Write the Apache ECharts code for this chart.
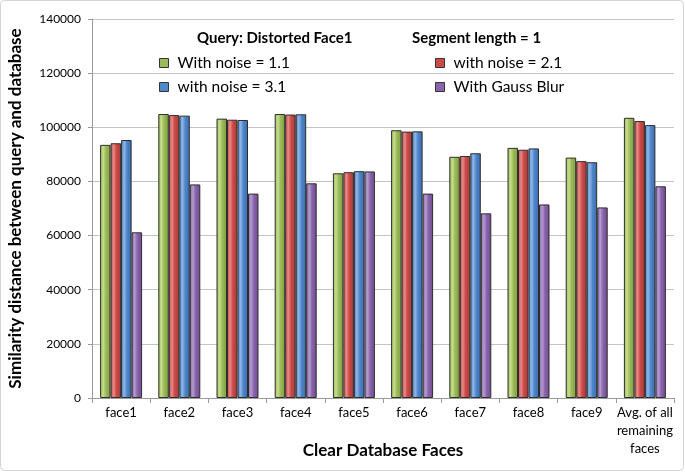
<!DOCTYPE html>
<html>
<head>
<meta charset="utf-8">
<script src="https://cdn.jsdelivr.net/npm/echarts@6/dist/echarts.min.js"></script>
<style>html,body{margin:0;padding:0;background:#fff}#c{width:685px;height:472px}</style>
</head>
<body>
<div id="c"></div>
<script>
const categories = ['face1','face2','face3','face4','face5','face6','face7','face8','face9','Avg. of all\nremaining\nfaces'];
const seriesNames = ['With noise = 1.1','with noise = 2.1','with noise = 3.1','With Gauss Blur'];
const noise11 = [93500,104900,103200,104900,83000,98900,89100,92400,88800,103500];
const noise21 = [94100,104500,102800,104700,83400,98400,89400,91700,87500,102300];
const noise31 = [95300,104300,102700,104800,83800,98500,90400,92200,87100,100800];
const gaussBlur = [61200,78900,75500,79300,83700,75500,68200,71500,70400,78200];
const yTicks = {min:0, max:140000, interval:20000};
const titleQuery = 'Query: Distorted Face1';
const titleSegment = 'Segment length = 1';
const xName = 'Clear Database Faces';
const yName = 'Similarity distance between query and database';

const FONT = 'Lato';
const palettes = [
  ['#c6dc8c','#9bbb59','#7f9c3e'],
  ['#e58a88','#cc4b48','#a83a37'],
  ['#8fb6e6','#4f87cc','#3a6aa8'],
  ['#b39ccc','#8a64ad','#6c4c8c']
];
const dataSets = [noise11, noise21, noise31, gaussBlur];

function grad(p){
  return new echarts.graphic.LinearGradient(0,0,1,0,[
    {offset:0,color:p[1]},{offset:0.3,color:p[0]},{offset:0.55,color:p[1]},{offset:1,color:p[2]}
  ]);
}

const series = dataSets.map((d,i)=>({
  name: seriesNames[i],
  type: 'bar',
  data: d,
  barWidth: 10.5,
  barGap: '0%',
  itemStyle: {color: grad(palettes[i]), borderColor:'#2e2e2e', borderWidth:1},
  emphasis:{disabled:true}
}));

const legendPos = [[159,55],[435,55],[159,79],[435,79]];
const legends = seriesNames.map((n,i)=>({
  data:[{name:n, itemStyle:{color:palettes[i][1], borderColor:'#333', borderWidth:1}}],
  left: legendPos[i][0], top: legendPos[i][1],
  padding:0, itemWidth:9, itemHeight:9, icon:'rect',
  textStyle:{fontFamily:FONT, fontSize:15.5, color:'#000', padding:[0,0,0,4]},
  selectedMode:false
}));

const chart = echarts.init(document.getElementById('c'), null, {renderer:'canvas'});
chart.setOption({
  animation:false,
  backgroundColor:'#fff',
  title:[
    {text:titleQuery, left:197, top:31, padding:0, textStyle:{fontFamily:FONT, fontWeight:'bold', fontSize:15, color:'#000'}},
    {text:titleSegment, left:412, top:31, padding:0, textStyle:{fontFamily:FONT, fontWeight:'bold', fontSize:15, color:'#000'}}
  ],
  legend: legends,
  graphic:[{type:'rect', shape:{x:0.5,y:0.5,width:683,height:470,r:4}, style:{fill:'none', stroke:'#d4d4d4', lineWidth:1}, silent:true}],
  grid:{left:92, right:11, top:19, bottom:74, containLabel:false, outerBoundsMode:'none'},
  xAxis:{
    type:'category', data:categories,
    axisLine:{lineStyle:{color:'#9a9a9a'}},
    axisTick:{show:true, length:5, lineStyle:{color:'#9a9a9a'}},
    axisLabel:{fontFamily:FONT, fontSize:13, color:'#000', margin:6, lineHeight:18, interval:0},
    name:xName, nameLocation:'middle', nameGap:44, nameMoveOverlap:false,
    nameTextStyle:{fontFamily:FONT, fontWeight:'bold', fontSize:17, color:'#000'}
  },
  yAxis:{
    type:'value', min:yTicks.min, max:yTicks.max, interval:yTicks.interval,
    axisLine:{show:true, lineStyle:{color:'#9a9a9a'}},
    axisTick:{show:true, length:4, lineStyle:{color:'#9a9a9a'}},
    splitLine:{lineStyle:{color:'#c4c4c4'}},
    axisLabel:{fontFamily:FONT, fontSize:12, color:'#000', margin:11, formatter:(v)=>String(v)},
    name:yName, nameLocation:'middle', nameGap:68, nameRotate:90, nameMoveOverlap:false,
    nameTextStyle:{fontFamily:FONT, fontWeight:'bold', fontSize:17, color:'#000'}
  },
  series: series
});
</script>
</body>
</html>
